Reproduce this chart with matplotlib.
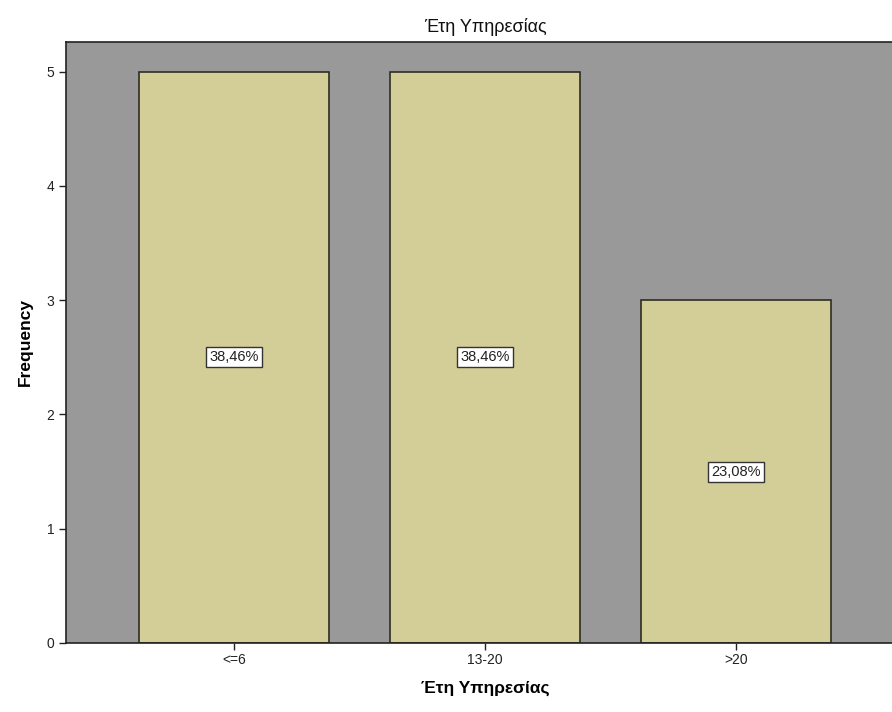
import matplotlib
matplotlib.use("Agg")
import matplotlib.pyplot as plt

categories = ["<=6", "13-20", ">20"]
frequency = [5, 5, 3]
percent_labels = ["38,46%", "38,46%", "23,08%"]

plt.rcParams["font.family"] = ["Liberation Sans", "DejaVu Sans"]

fig = plt.figure(figsize=(8.92, 7.12), dpi=100)
# axes run slightly past the right edge of the figure
ax = fig.add_axes([66 / 892, 69 / 712, 838 / 892, 601 / 712])
ax.set_facecolor("#999999")

x = list(range(len(categories)))
bars = ax.bar(x, frequency, width=0.757, color="#d3ce97",
              edgecolor="#2e2e22", linewidth=1.2, zorder=2)

for xi, h, lab in zip(x, frequency, percent_labels):
    ax.text(xi, h / 2, lab, ha="center", va="center", fontsize=10.5,
            color="#222222", zorder=3,
            bbox=dict(boxstyle="square,pad=0.2", facecolor="white",
                      edgecolor="#333333", linewidth=1))

ax.set_xlim(-0.669, 2.669)
ax.set_ylim(0, 5.26)
ax.set_yticks([0, 1, 2, 3, 4, 5])
ax.set_xticks(x)
ax.set_xticklabels(categories)
ax.tick_params(axis="both", labelsize=10, colors="#222222", length=5, width=1)
ax.tick_params(axis="x", pad=2)

for side in ["left", "bottom", "top"]:
    ax.spines[side].set_color("#222222")
    ax.spines[side].set_linewidth(1.2)
ax.spines["right"].set_visible(False)

ax.set_ylabel("Frequency", fontsize=12.5, fontweight="bold", labelpad=10)
ax.set_xlabel("Έτη Υπηρεσίας", fontsize=12.5, fontweight="bold", labelpad=10)
fig.text(485 / 892, 1 - 27 / 712, "Έτη Υπηρεσίας", ha="center", va="center",
         fontsize=13, color="#111111")

fig.savefig("out.png", dpi=100)
